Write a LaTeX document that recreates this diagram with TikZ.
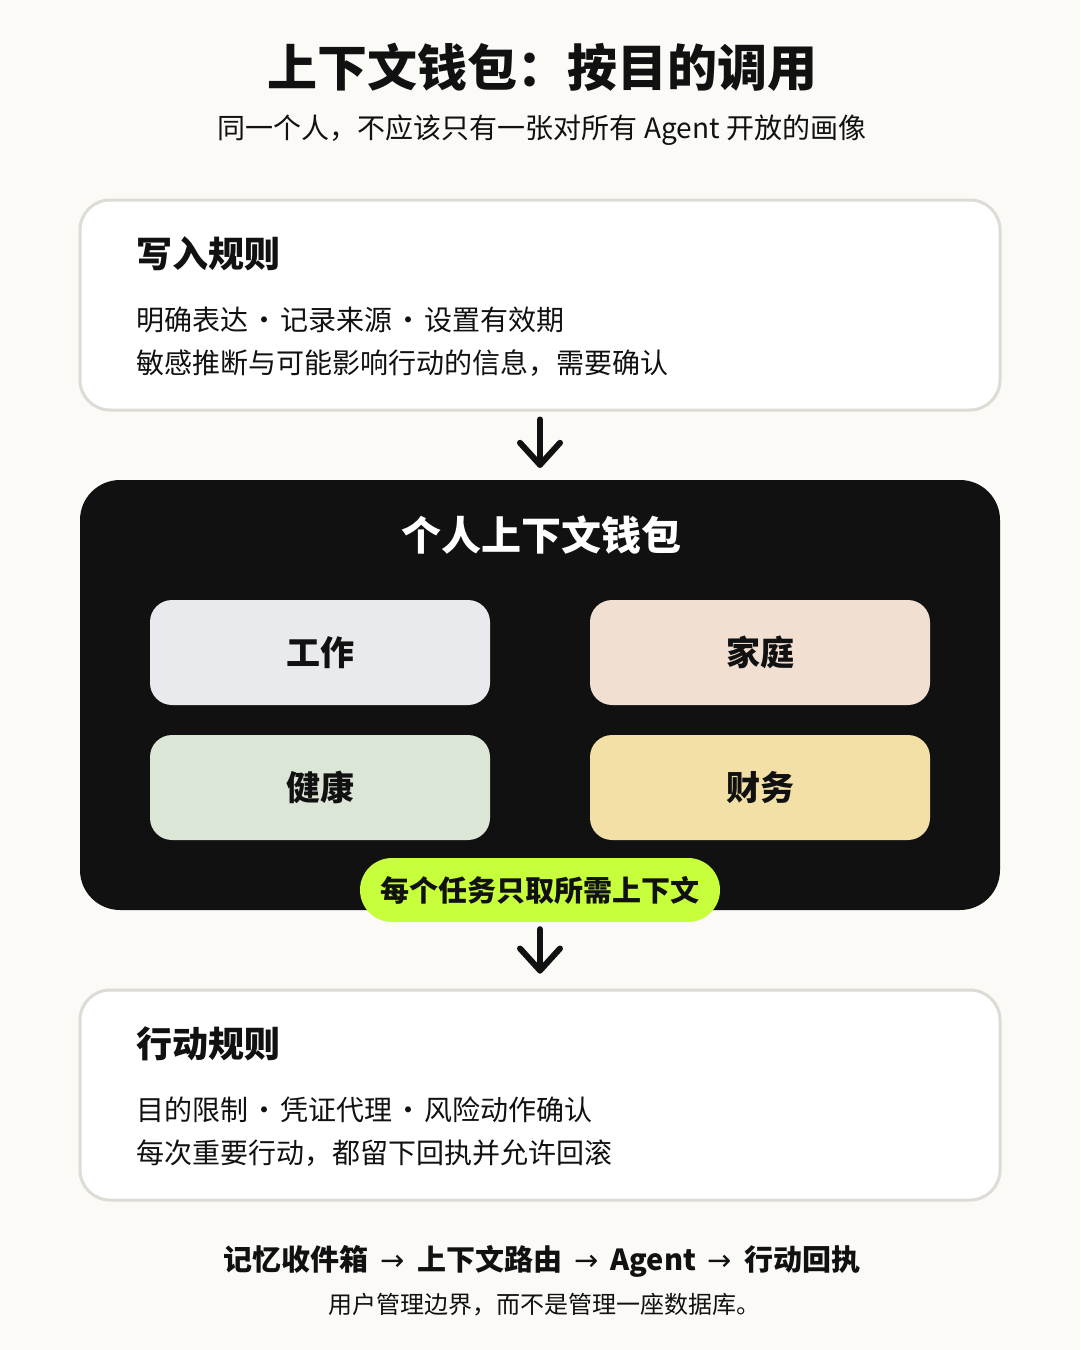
\documentclass[tikz,border=0pt]{standalone}
\usepackage{fontspec}
\setmainfont{Noto Sans CJK SC}
\newfontfamily\arrowfont{DejaVu Sans}
\usetikzlibrary{calc}
\definecolor{paper}{HTML}{FBFAF6}
\definecolor{edge}{HTML}{DDDBD5}
\definecolor{ink}{HTML}{111111}
\definecolor{workc}{HTML}{E9EAEE}
\definecolor{homec}{HTML}{F1DFD2}
\definecolor{healthc}{HTML}{DCE6D7}
\definecolor{moneyc}{HTML}{F2E0A6}
\definecolor{lime}{HTML}{C8FF3C}
\newcommand\fsz[1]{\fontsize{#1}{#1}\selectfont}
\newcommand\ra{\hspace{12pt}{\arrowfont\mdseries →}\hspace{12pt}}
\newcommand\sep{\hspace{2pt}·\hspace{2pt}}
\tikzset{
	card/.style={draw=edge, line width=3pt, fill=white, rounded corners=30pt, minimum width=920pt, minimum height=210pt},
	cell/.style={rounded corners=22pt, minimum width=340pt, minimum height=105pt, font=\fsz{34}\bfseries, text=ink},
	head/.style={anchor=base west, font=\fsz{36}\bfseries, text=ink},
	line/.style={anchor=base west, font=\fsz{28}, text=ink},
	flow/.style={draw=ink, line width=6pt, line cap=round, line join=round},
}

\begin{document}
\begin{tikzpicture}[x=1pt, y=-1pt]
			%%%%% START %%%%%
			
			\fill[paper] (0, 0) rectangle (1080, 1350);
			\useasboundingbox (0, 0) rectangle (1080, 1350);
			
			\node[anchor=base, font=\fsz{50}\bfseries, text=ink] (title) at (542, 86) {上下文钱包：按目的调用};
			\node[anchor=base, font=\fsz{28}, text=ink] (subtitle) at (542, 138) {同一个人，不应该只有一张对所有 Agent 开放的画像};
			
			% write rules
			\node[card] (writebox) at (540, 305) {};
			\node[head] (writehead) at (133, 267) {写入规则};
			\node[line] (writeone) at (133, 330) {明确表达\sep 记录来源\sep 设置有效期};
			\node[line] (writetwo) at (133, 373) {敏感推断与可能影响行动的信息，需要确认};
			
			% wallet
			\node[fill=ink, rounded corners=40pt, minimum width=920pt, minimum height=430pt] (wallet) at (540, 695) {};
			\node[anchor=base, font=\fsz{40}\bfseries, text=white] (wallethead) at (541, 550) {个人上下文钱包};
			
			\node[cell, fill=workc] (work) at (320, 652.5) {工作};
			\node[cell, fill=homec] (home) at (760, 652.5) {家庭};
			\node[cell, fill=healthc] (health) at (320, 787.5) {健康};
			\node[cell, fill=moneyc] (money) at (760, 787.5) {财务};
			
			\node[fill=lime, rounded corners=32pt, minimum width=360pt, minimum height=64pt, font=\fsz{29}\bfseries, text=ink] (taskpill) at (540, 890) {每个任务只取所需上下文};
			
			% action rules
			\node[card] (actbox) at (540, 1095) {};
			\node[head] (acthead) at (133, 1057) {行动规则};
			\node[line] (actone) at (133, 1120) {目的限制\sep 凭证代理\sep 风险动作确认};
			\node[line] (acttwo) at (133, 1163) {每次重要行动，都留下回执并允许回滚};
			
			% arrows
			\coordinate (tipa) at ([yshift=15pt]wallet.north);
			\coordinate (tipb) at ([yshift=18pt]actbox.north);
			\draw[flow] ([yshift=-8pt]writebox.south) -- (tipa);
			\draw[flow] ($(tipa)+(-20,-22)$) -- (tipa) -- ($(tipa)+(20,-22)$);
			\draw[flow] ([yshift=-7pt]taskpill.south) -- (tipb);
			\draw[flow] ($(tipb)+(-20,-22)$) -- (tipb) -- ($(tipb)+(20,-22)$);
			
			% footer
			\node[anchor=base, font=\fsz{29}\bfseries, text=ink] (chain) at (542, 1270) {记忆收件箱\ra 上下文路由\ra Agent\ra 行动回执};
			\node[anchor=base, font=\fsz{24}, text=ink] (motto) at (544, 1313) {用户管理边界，而不是管理一座数据库。};
			
			%%%%% END %%%%%
\end{tikzpicture}
\end{document}
